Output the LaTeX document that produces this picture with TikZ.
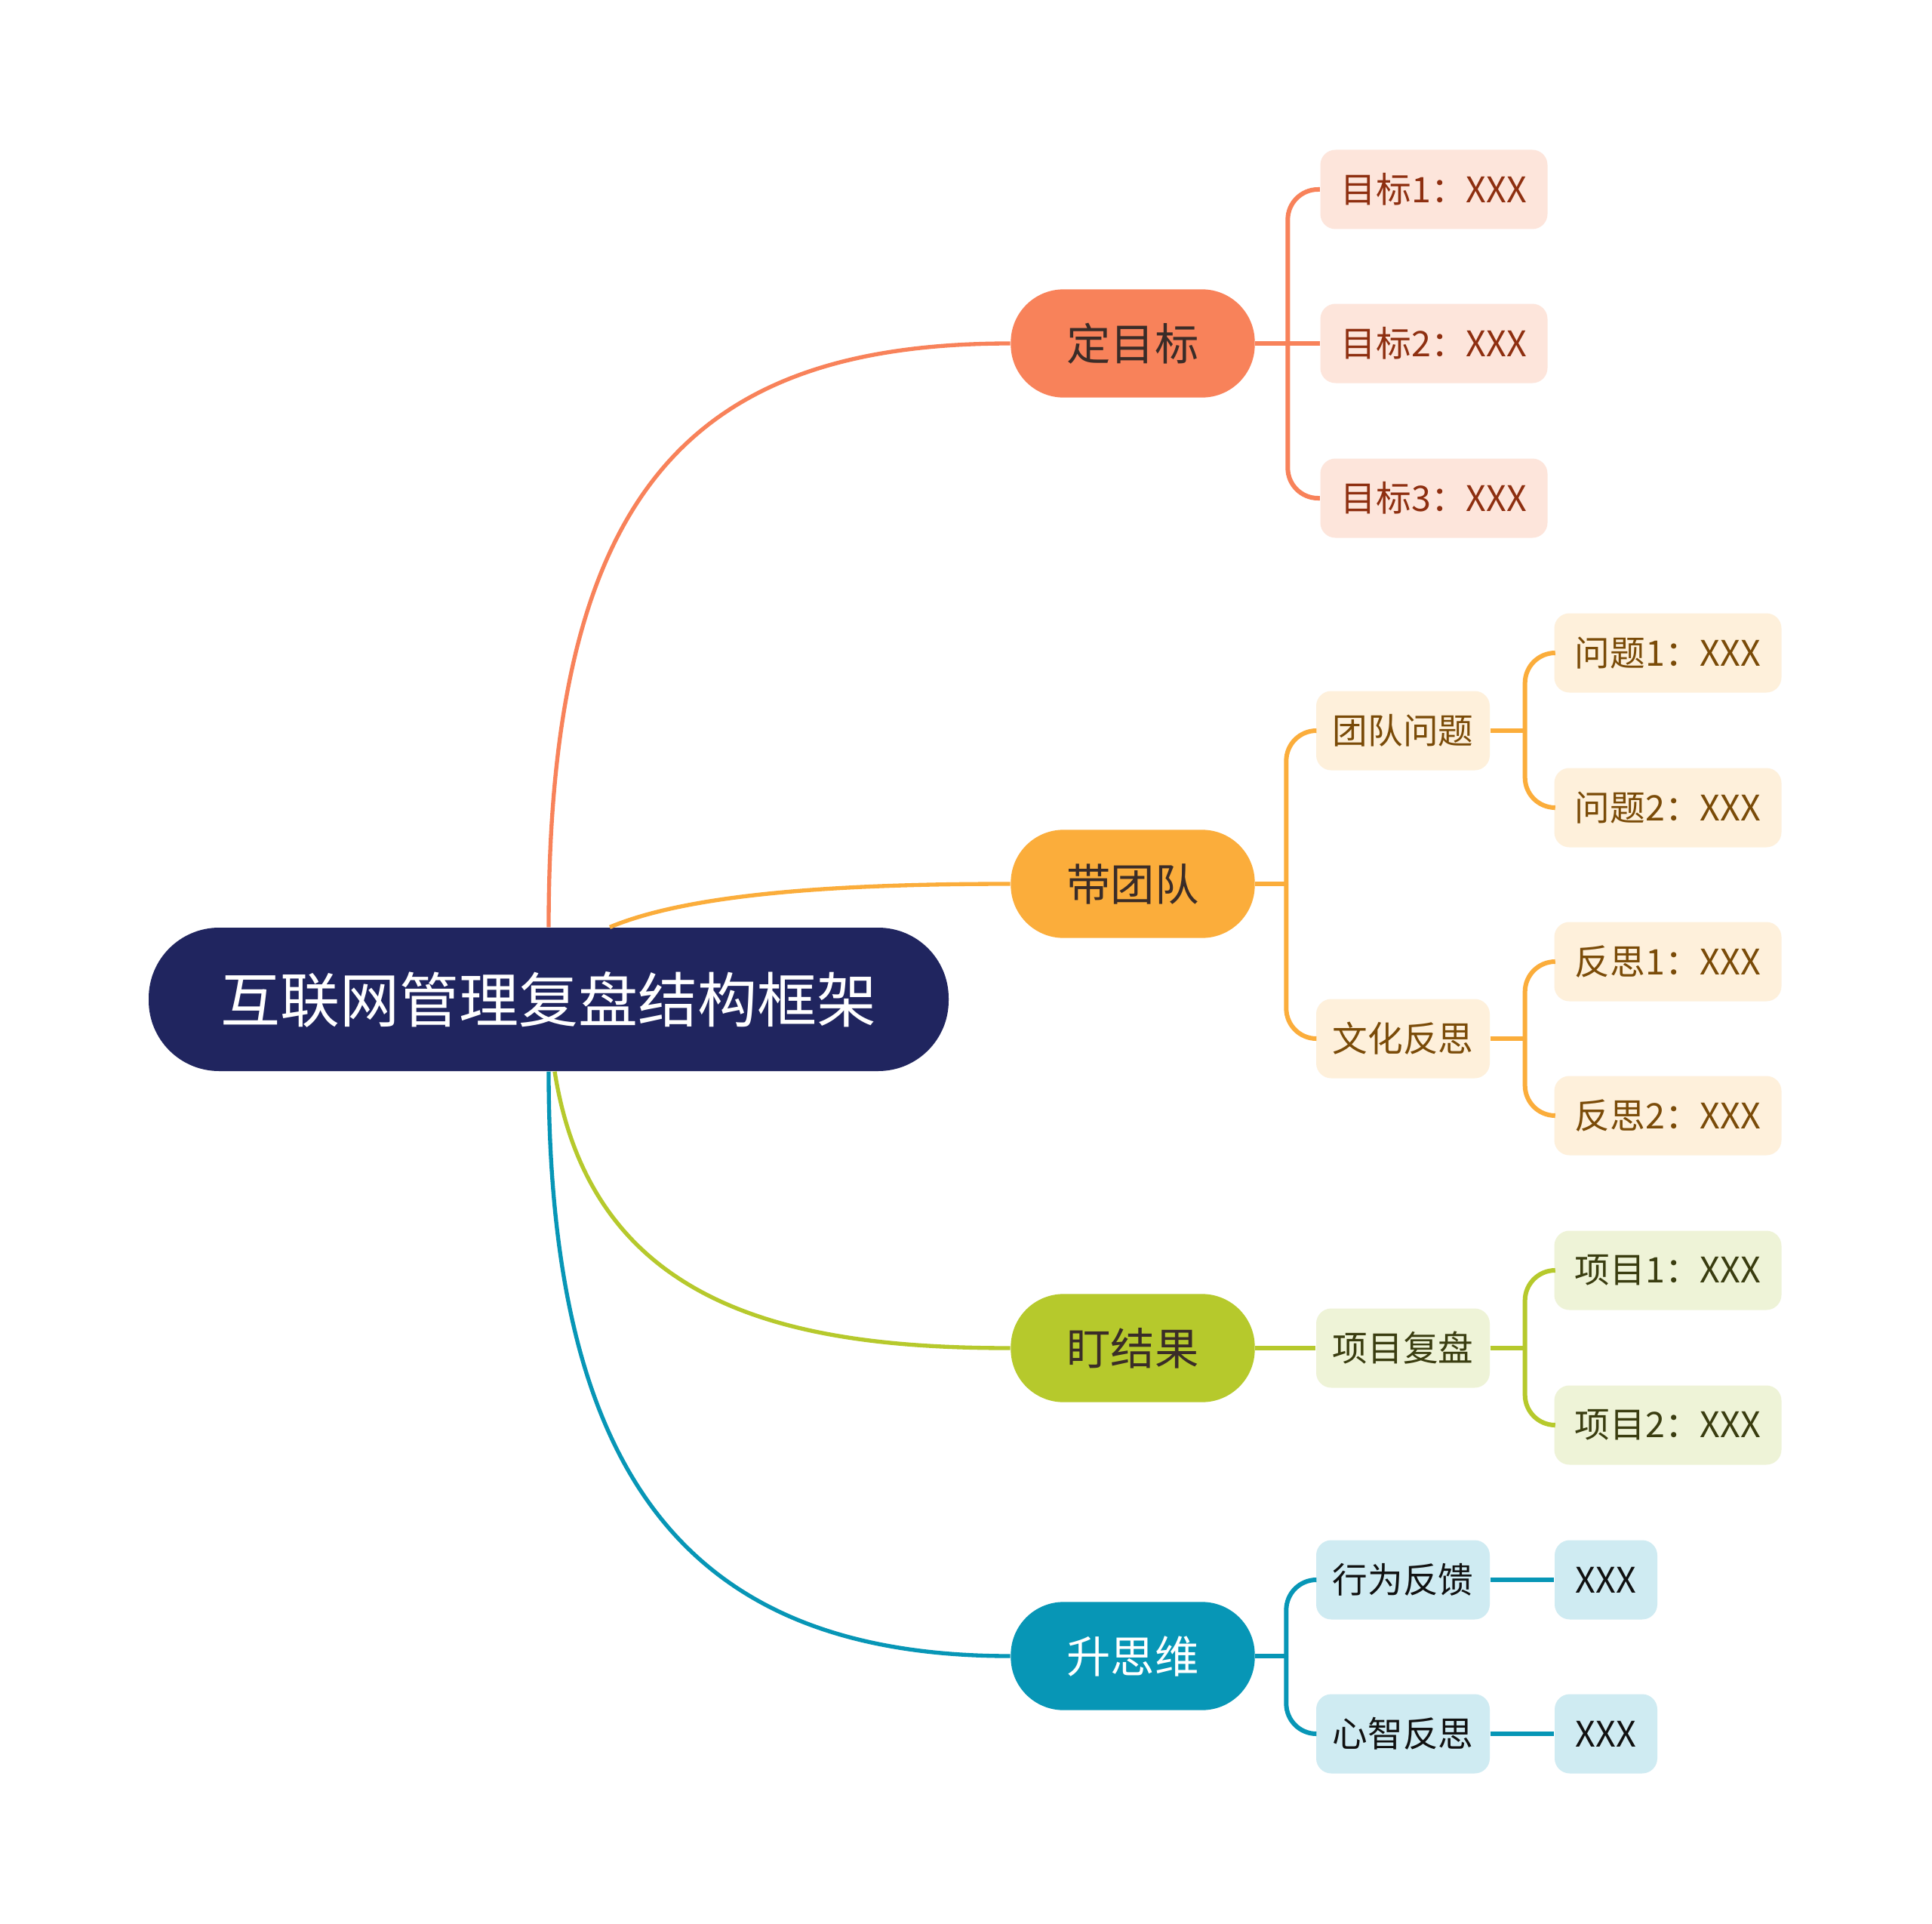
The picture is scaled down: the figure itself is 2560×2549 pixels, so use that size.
\documentclass[tikz,border=0pt]{standalone}
\usepackage{fontspec}
\newfontfamily\cjk{Noto Sans CJK SC}
\definecolor{rootfill}{HTML}{20255F}
\definecolor{oA}{HTML}{F8825A}
\definecolor{oL}{HTML}{FDE5DB}
\definecolor{oT}{HTML}{8E2F10}
\definecolor{yA}{HTML}{FBAD3B}
\definecolor{yL}{HTML}{FEF0DB}
\definecolor{yT}{HTML}{7A4B08}
\definecolor{gA}{HTML}{B6C92C}
\definecolor{gL}{HTML}{EEF3D7}
\definecolor{gT}{HTML}{3A3D10}
\definecolor{tA}{HTML}{0796B6}
\definecolor{tL}{HTML}{CFEBF2}
\definecolor{tT}{HTML}{111111}
\definecolor{mainT}{HTML}{3A2C28}
\tikzset{
  rootbox/.style={fill=rootfill, text=white, rounded corners=28pt, minimum width=318pt, minimum height=57pt, inner sep=0pt, font=\cjk\fontsize{23.7}{28}\selectfont},
  mainbox/.style={rounded corners=21pt, minimum width=97pt, minimum height=43pt, inner sep=0pt, font=\cjk\fontsize{17.5}{21}\selectfont},
  leafbox/.style={rounded corners=6pt, minimum width=90.3pt, minimum height=31.5pt, inner sep=0pt, font=\cjk\fontsize{14}{17}\selectfont},
  midbox/.style={rounded corners=6pt, minimum width=69pt, minimum height=31.5pt, inner sep=0pt, font=\cjk\fontsize{14}{17}\selectfont},
  xbox/.style={rounded corners=6pt, minimum width=40.8pt, minimum height=31.5pt, inner sep=0pt, font=\cjk\fontsize{14}{17}\selectfont},
  curveO/.style={draw=oA, line width=1.6pt},
  curveY/.style={draw=yA, line width=1.6pt},
  curveG/.style={draw=gA, line width=1.6pt},
  curveT/.style={draw=tA, line width=1.6pt},
  lnO/.style={draw=oA, line width=1.8pt},
  lnY/.style={draw=yA, line width=1.8pt},
  lnG/.style={draw=gA, line width=1.8pt},
  lnT/.style={draw=tA, line width=1.8pt},
  brk/.style={rounded corners=12pt}
}
\begin{document}
\begin{tikzpicture}[x=0.3pt,y=-0.3pt]
\useasboundingbox[fill=white] (0,0) rectangle (2560,2549);

% root curves (drawn first, under nodes)
\coordinate (rootN) at (727,1229);
\coordinate (rootN2) at (808,1229);
\coordinate (rootS) at (727,1420);
\coordinate (rootS2) at (735,1420);

% root
\node[rootbox] (root) at (727,1324) {互联网管理复盘结构框架};

% main topics
\node[mainbox, fill=oA, text=mainT] (m1) at (1501,455) {定目标};
\node[mainbox, fill=yA, text=mainT] (m2) at (1501,1171) {带团队};
\node[mainbox, fill=gA, text=mainT] (m3) at (1501,1786) {盯结果};
\node[mainbox, fill=tA, text=white] (m4) at (1501,2194) {升思维};

% branch 1
\node[leafbox, fill=oL, text=oT] (a1) at (1900,251) {目标1：XXX};
\node[leafbox, fill=oL, text=oT] (a2) at (1900,455) {目标2：XXX};
\node[leafbox, fill=oL, text=oT] (a3) at (1900,660) {目标3：XXX};

% branch 2
\node[midbox, fill=yL, text=yT] (b1) at (1859,968) {团队问题};
\node[midbox, fill=yL, text=yT] (b2) at (1859,1376) {文化反思};
\node[leafbox, fill=yL, text=yT] (b11) at (2210,865) {问题1：XXX};
\node[leafbox, fill=yL, text=yT] (b12) at (2210,1070) {问题2：XXX};
\node[leafbox, fill=yL, text=yT] (b21) at (2210,1274) {反思1：XXX};
\node[leafbox, fill=yL, text=yT] (b22) at (2210,1478) {反思2：XXX};

% branch 3
\node[midbox, fill=gL, text=gT] (c1) at (1859,1786) {项目复盘};
\node[leafbox, fill=gL, text=gT] (c11) at (2210,1683) {项目1：XXX};
\node[leafbox, fill=gL, text=gT] (c12) at (2210,1888) {项目2：XXX};

% branch 4
\node[midbox, fill=tL, text=tT] (d1) at (1859,2093) {行为反馈};
\node[midbox, fill=tL, text=tT] (d2) at (1859,2297) {心智反思};
\node[xbox, fill=tL, text=tT] (d11) at (2128,2093) {XXX};
\node[xbox, fill=tL, text=tT] (d21) at (2128,2297) {XXX};

% root curves
\draw[curveO] (root.north) .. controls (727,653) and (914,455) .. (m1.west);
\draw[curveY] ([xshift=24.3pt]root.north) .. controls (914,1184) and (1110,1171) .. (m2.west);
\draw[curveG] ([xshift=2.4pt]root.south) .. controls (784,1731) and (1045,1786) .. (m3.west);
\draw[curveT] (root.south) .. controls (727,1959) and (914,2194) .. (m4.west);

% branch 1 brackets
\draw[lnO] (m1.east) -- ++(43,0) coordinate (m1b);
\draw[lnO,brk] (m1b) |- (a1.west);
\draw[lnO] (m1b) -- (a2.west);
\draw[lnO,brk] (m1b) |- (a3.west);

% branch 2 brackets
\draw[lnY] (m2.east) -- ++(41,0) coordinate (m2b);
\draw[lnY,brk] (m2b) |- (b1.west);
\draw[lnY,brk] (m2b) |- (b2.west);
\draw[lnY] (b1.east) -- ++(46,0) coordinate (b1b);
\draw[lnY,brk] (b1b) |- (b11.west);
\draw[lnY,brk] (b1b) |- (b12.west);
\draw[lnY] (b2.east) -- ++(46,0) coordinate (b2b);
\draw[lnY,brk] (b2b) |- (b21.west);
\draw[lnY,brk] (b2b) |- (b22.west);

% branch 3
\draw[lnG] (m3.east) -- (c1.west);
\draw[lnG] (c1.east) -- ++(46,0) coordinate (c1b);
\draw[lnG,brk] (c1b) |- (c11.west);
\draw[lnG,brk] (c1b) |- (c12.west);

% branch 4
\draw[lnT] (m4.east) -- ++(41,0) coordinate (m4b);
\draw[lnT,brk] (m4b) |- (d1.west);
\draw[lnT,brk] (m4b) |- (d2.west);
\draw[lnT] (d1.east) -- (d11.west);
\draw[lnT] (d2.east) -- (d21.west);
\end{tikzpicture}
\end{document}
